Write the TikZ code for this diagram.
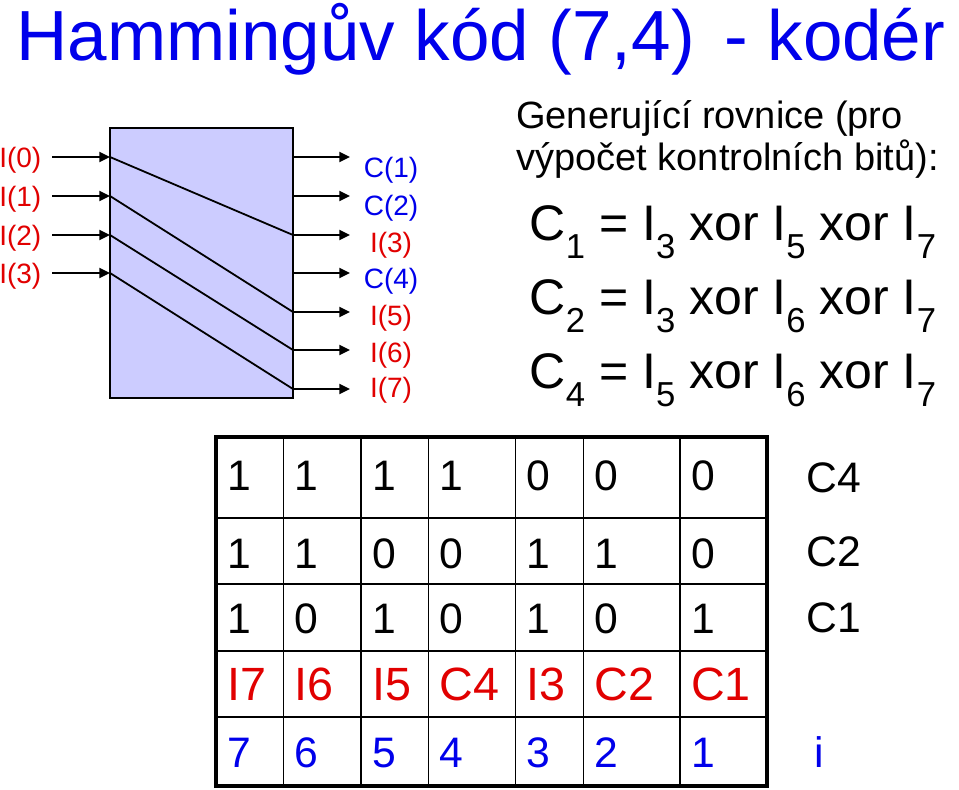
\documentclass[tikz,border=0pt]{standalone}
\usepackage{fontspec}
\setmainfont{Liberation Sans}
\usetikzlibrary{arrows.meta}
\definecolor{tblue}{RGB}{0,0,235}
\definecolor{tred}{RGB}{225,0,0}
\definecolor{boxfill}{RGB}{204,204,255}
\newcommand{\sbs}[1]{\raisebox{-13.5pt}{\fontsize{26pt}{26pt}\selectfont #1}}
\begin{document}
\begin{tikzpicture}[x=0.75pt,y=-0.75pt,
  txt/.style={inner sep=0,anchor=base west},
  lbl/.style={inner sep=0,anchor=base west,font=\fontsize{21pt}{21pt}\selectfont,text=tred},
  olbl/.style={inner sep=0,anchor=base,font=\fontsize{21pt}{21pt}\selectfont},
  arr/.style={line width=1.35pt,-{Triangle[length=8pt,width=7.5pt]}},
  wire/.style={line width=1.35pt},
  cell/.style={inner sep=0,anchor=base west,font=\fontsize{32pt}{32pt}\selectfont},
  rcell/.style={cell,font=\fontsize{35pt}{35pt}\selectfont,text=tred},
  bcell/.style={cell,text=tblue},
  eq/.style={inner sep=0,anchor=base west,font=\fontsize{37.5pt}{37.5pt}\selectfont}]
\useasboundingbox (0,0) rectangle (959,789);
\fill[white] (0,0) rectangle (959,789);
% title
\node[txt,text=tblue,font=\fontsize{53.25pt}{53.25pt}\selectfont] (title) at (16,60) {Hammingův kód (7,4)\hspace{22pt}- kodér};
% encoder box
\node[draw,fill=boxfill,line width=1.6pt,minimum width=183*0.75pt,minimum height=270*0.75pt,inner sep=0] (enc) at (201.5,263) {};
% inputs
\foreach \i/\y in {0/157,1/196,2/235,3/273}{
  \node[lbl] (il\i) at (-1,\y+10) {I(\i)};
  \coordinate (s\i) at (52,\y);
  \coordinate (e\i) at (110,\y);
  \draw[arr] (s\i) -- (e\i);
}
% outputs
\foreach \j/\y in {0/157,1/196,2/235,3/273,4/312,5/350,6/389}{
  \coordinate (o\j) at (293,\y);
  \coordinate (t\j) at (350,\y);
  \draw[arr] (o\j) -- (t\j);
}
\node[olbl,text=tblue] (ol0) at (391,177) {C(1)};
\node[olbl,text=tblue] (ol1) at (391,215) {C(2)};
\node[olbl,text=tred] (ol2) at (391,252) {I(3)};
\node[olbl,text=tblue] (ol3) at (391,288) {C(4)};
\node[olbl,text=tred] (ol4) at (391,325) {I(5)};
\node[olbl,text=tred] (ol5) at (391,362) {I(6)};
\node[olbl,text=tred] (ol6) at (391,397) {I(7)};
% internal wiring
\draw[wire] (e0) -- (o2);
\draw[wire] (e1) -- (o4);
\draw[wire] (e2) -- (o5);
\draw[wire] (e3) -- (o6);
% generating equations
\node[txt,font=\fontsize{28.5pt}{28.5pt}\selectfont] (g1) at (516,128) {Generující rovnice (pro};
\node[txt,font=\fontsize{28.5pt}{28.5pt}\selectfont] (g2) at (516,170) {výpočet kontrolních bitů):};
\node[eq] (eq1) at (529.5,240) {C\sbs{1} = I\sbs{3} xor I\sbs{5} xor I\sbs{7}};
\node[eq] (eq2) at (529.5,314) {C\sbs{2} = I\sbs{3} xor I\sbs{6} xor I\sbs{7}};
\node[eq] (eq3) at (529.5,388) {C\sbs{4} = I\sbs{5} xor I\sbs{6} xor I\sbs{7}};
% table
\foreach \x in {283.5,361,428.5,515.5,583.5,680} \draw[line width=1.4pt] (\x,437) -- (\x,786);
\foreach \y in {518,584,651,717} \draw[line width=1.4pt] (216,\y) -- (767,\y);
\draw[line width=2.6pt] (216,437) rectangle (767,786);
\foreach \x/\a/\b/\c/\d/\e [count=\k] in {216/1/1/1/I7/7,283.5/1/1/0/I6/6,361/1/0/1/I5/5,428.5/1/0/0/C4/4,515.5/0/1/1/I3/3,583.5/0/1/0/C2/2,680/0/0/1/C1/1}{
  \node[cell] (ra\k) at (\x+11,490) {\a};
  \node[cell] (rb\k) at (\x+11,568) {\b};
  \node[cell] (rc\k) at (\x+11,633) {\c};
  \node[rcell] (rd\k) at (\x+11,700) {\d};
  \node[bcell] (re\k) at (\x+11,767) {\e};
}
\node[cell] (lc4) at (806,492) {C4};
\node[cell] (lc2) at (806,566) {C2};
\node[cell] (lc1) at (806,632) {C1};
\node[cell,text=tblue] (li) at (814,767) {i};
\end{tikzpicture}
\end{document}
